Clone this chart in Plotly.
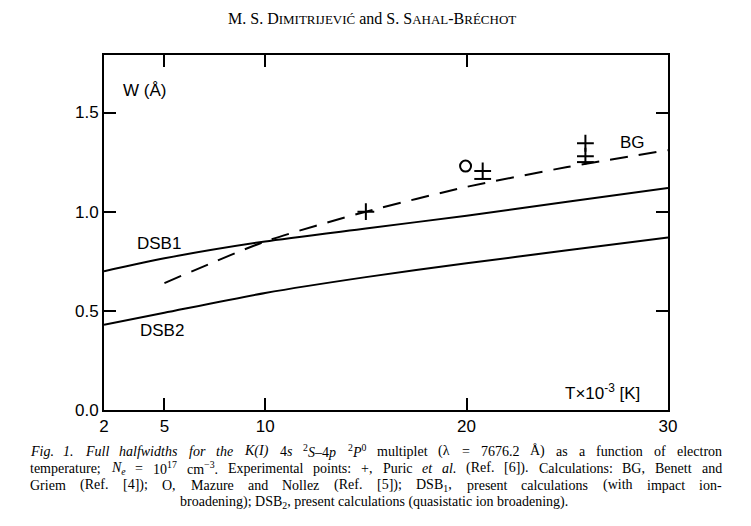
import re
import plotly.graph_objects as go

# DSB1 / DSB2 present calculations, BG = Benett and Griem
t_dsb = [2, 5, 10, 15, 20, 25, 30]
w_dsb1 = [0.70, 0.765, 0.85, 0.915, 0.98, 1.05, 1.12]
w_dsb2 = [0.43, 0.49, 0.59, 0.67, 0.74, 0.805, 0.87]

t_bg = [5, 10, 15, 20, 25, 30]
w_bg = [0.64, 0.85, 1.0, 1.125, 1.225, 1.31]

# experimental points, Puric et al.
t_puric = [15, 20.8, 25.9, 25.9]
w_puric = [1.0, 1.205, 1.345, 1.28]
t_bar = [20.8, 25.9]
w_bar = [1.165, 1.25]

# Mazure and Nollez
t_mn = [19.95]
w_mn = [1.23]

x_ticks = [2, 5, 10, 20, 30]
y_ticks = [0, 0.5, 1.0, 1.5]
y_labels = ["0.0", "0.5", "1.0", "1.5"]

caption = [
    "<i>Fig.</i> <i>1.</i> <i>Full</i> <i>halfwidths</i> <i>for</i> <i>the</i> <i>K(I)</i> 4<i>s</i> "
    "<sup>2</sup><i>S</i>–4<i>p</i> <sup>2</sup><i>P</i><sup>0</sup> multiplet (λ = 7676.2 Å) as a function of electron",
    "temperature; <i>N<sub>e</sub></i> = 10<sup>17</sup> cm<sup>−3</sup>. Experimental points: +, Puric "
    "<i>et</i> <i>al.</i> (Ref. [6]). Calculations: BG, Benett and",
    "Griem (Ref. [4]); O, Mazure and Nollez (Ref. [5]); DSB<sub>1</sub>, present calculations (with impact ion-",
    "broadening); DSB<sub>2</sub>, present calculations (quasistatic ion broadening).",
]

sans = "Liberation Sans"
serif = "Liberation Serif"
OFF = 8  # page margin of the browser, in px
FW, FH = 751, 526


def px(x):
    return (x - OFF) / FW


def py(y):
    return 1 - (y - OFF) / FH


# rough Times widths (1/1000 em) to spread caption words like the justified original
TIMES = {" ": 250, "(": 333, ")": 333, "+": 564, ",": 250, "-": 333, ".": 250, ":": 278, ";": 278,
         "=": 564, "[": 333, "]": 333, "–": 500, "−": 564, "λ": 550, "Å": 722,
         "A": 722, "B": 667, "C": 667, "D": 722, "E": 611, "F": 556, "G": 722, "I": 333, "K": 722,
         "M": 889, "N": 722, "O": 722, "P": 556, "R": 667, "S": 556,
         "a": 444, "b": 500, "c": 444, "d": 500, "e": 444, "f": 333, "g": 500, "h": 500, "i": 278,
         "k": 500, "l": 278, "m": 778, "n": 500, "o": 500, "p": 500, "q": 500, "r": 333, "s": 389,
         "t": 278, "u": 500, "v": 500, "w": 722, "x": 500, "y": 500, "z": 444}


def measure(html, size):
    scale, total = 1.0, 0.0
    for tok in re.split(r"(<[^>]+>)", html):
        if tok.startswith("<"):
            if tok in ("<sup>", "<sub>"):
                scale = 0.7
            elif tok in ("</sup>", "</sub>"):
                scale = 1.0
            continue
        for ch in tok:
            total += TIMES.get(ch, 500) * scale
    return total * size / 1000


fig = go.Figure()
smooth = dict(color="black", width=2, shape="spline", smoothing=0.6)
fig.add_trace(go.Scatter(x=t_dsb, y=w_dsb1, mode="lines", line=smooth))
fig.add_trace(go.Scatter(x=t_dsb, y=w_dsb2, mode="lines", line=smooth))
fig.add_trace(go.Scatter(x=t_bg, y=w_bg, mode="lines",
                         line=dict(color="black", width=2, dash="18px,11px", shape="spline", smoothing=0.6)))
fig.add_trace(go.Scatter(x=t_puric, y=w_puric, mode="markers",
                         marker=dict(symbol="cross-thin", size=12, line=dict(color="black", width=2))))
fig.add_trace(go.Scatter(x=t_bar, y=w_bar, mode="markers",
                         marker=dict(symbol="line-ew", size=12, line=dict(color="black", width=2))))
fig.add_trace(go.Scatter(x=t_mn, y=w_mn, mode="markers",
                         marker=dict(symbol="circle-open", size=11, color="black", line=dict(width=2))))

lbl = dict(family=sans, size=17, color="black")
ann = [
    dict(x=2.85, y=1.61, text="W (Å)"),
    dict(x=27.5, y=1.35, text="BG"),
    dict(x=3.55, y=0.84, text="DSB1"),
    dict(x=3.7, y=0.40, text="DSB2"),
    dict(x=24.8, y=0.09, text="T×10<sup>-3</sup> [K]"),
]
for a in ann:
    fig.add_annotation(showarrow=False, font=lbl, xanchor="left", yanchor="middle", **a)

sc = "<span style='font-size:13px'>"
fig.add_annotation(
    xref="paper", yref="paper", x=px(372), y=py(18),
    showarrow=False, yanchor="middle", xanchor="center",
    font=dict(family=serif, size=16, color="black"),
    text="M. S. D" + sc + "IMITRIJEVIĆ</span> and S. S" + sc + "AHAL</span>-B" + sc + "RÉCHOT</span>",
)

cap_size = 14
cap_left, cap_right = 29, 721
cap_y = [451, 468, 485, 502]
for i, (line, yy) in enumerate(zip(caption, cap_y)):
    cfont = dict(family=serif, size=cap_size, color="black")
    if i == len(caption) - 1:
        fig.add_annotation(xref="paper", yref="paper", showarrow=False, borderpad=0,
                           x=px(374), xanchor="center", y=py(yy), yanchor="middle",
                           font=cfont, text=line)
        continue
    words = line.split(" ")
    widths = [measure(w, cap_size) for w in words]
    gap = (cap_right - cap_left - sum(widths)) / (len(words) - 1)
    xx = cap_left
    for w, wd in zip(words, widths):
        fig.add_annotation(xref="paper", yref="paper", showarrow=False, borderpad=0,
                           x=px(xx), xanchor="left", y=py(yy), yanchor="middle",
                           font=cfont, text=w)
        xx += wd + gap

axis_style = dict(ticks="inside", ticklen=12, tickwidth=2, tickcolor="black",
                  showline=True, linecolor="black", linewidth=2, mirror="ticks",
                  showgrid=False, zeroline=False, automargin=False,
                  tickfont=dict(family=sans, size=17, color="black"))

fig.update_layout(
    width=FW, height=FH,
    margin=dict(l=0, r=0, t=0, b=0),
    paper_bgcolor="white", plot_bgcolor="white",
    showlegend=False,
    xaxis=dict(range=[2, 30], domain=[px(104), px(668)], tickvals=x_ticks, **axis_style),
    yaxis=dict(range=[0, 1.79], domain=[py(410), py(55)], tickvals=y_ticks,
               ticktext=y_labels, **axis_style),
)

fig.write_html("out.html")
